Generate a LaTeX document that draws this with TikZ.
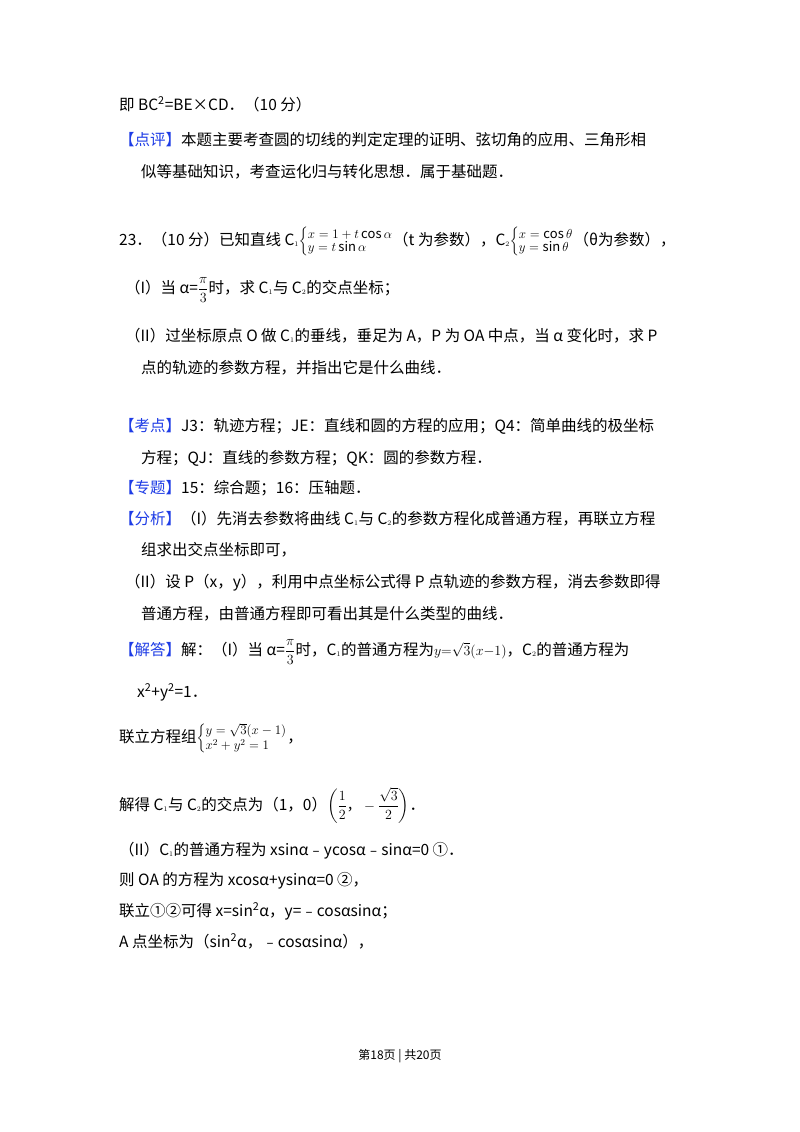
\RequirePackage{fix-cm}
\documentclass[tikz,border=0pt]{standalone}
\usepackage{fontspec}
\setmainfont{Noto Sans CJK SC}
\usepackage{amsmath}
\definecolor{hdblue}{RGB}{30,60,230}
\begin{document}
\begin{tikzpicture}[x=1pt,y=-1pt,
  ln/.style={anchor=base west,inner sep=0pt,font=\fontsize{15.5}{18}\selectfont},
  ft/.style={anchor=base,inner sep=0pt,font=\fontsize{12}{14}\selectfont}]
\fill[white] (0,0) rectangle (800,1132);
\newcommand{\hd}[1]{\textcolor{hdblue}{【#1】}}
\newcommand{\sm}[1]{{\fontsize{10}{12}\selectfont #1}}
\newcommand{\fr}[2]{{\fontsize{14}{16}\selectfont$\dfrac{#1}{#2}$}}
\node[ln] (l1) at (119,110) {即 BC\textsuperscript{2}=BE×CD．（10 分）};
\node[ln] (l2) at (119,145) {\hd{点评}本题主要考查圆的切线的判定定理的证明、弦切角的应用、三角形相};
\node[ln] (l3) at (141,177) {似等基础知识，考查运化归与转化思想．属于基础题．};
\node[ln] (l4) at (119,245) {23．（10 分）已知直线 C\sm{$_1$}{\fontsize{13}{15}\selectfont$\left\{\begin{array}{@{}l@{}} x=1+t\cos\alpha\\[-2pt] y=t\sin\alpha\end{array}\right.$}（t 为参数），C\sm{$_2$}{\fontsize{13}{15}\selectfont$\left\{\begin{array}{@{}l@{}} x=\cos\theta\\[-2pt] y=\sin\theta\end{array}\right.$}（θ为参数），};
\node[ln] (l5) at (125,293) {（I）当 α=\fr{\pi}{3}时，求 C\sm{$_1$}与 C\sm{$_2$}的交点坐标；};
\node[ln] (l6) at (125,341) {（II）过坐标原点 O 做 C\sm{$_1$}的垂线，垂足为 A，P 为 OA 中点，当 α 变化时，求 P};
\node[ln] (l7) at (141,373) {点的轨迹的参数方程，并指出它是什么曲线．};
\node[ln] (l8) at (119,431) {\hd{考点}J3：轨迹方程；JE：直线和圆的方程的应用；Q4：简单曲线的极坐标};
\node[ln] (l9) at (141,463) {方程；QJ：直线的参数方程；QK：圆的参数方程．};
\node[ln] (l10) at (119,493) {\hd{专题}15：综合题；16：压轴题．};
\node[ln] (l11) at (119,524) {\hd{分析}（I）先消去参数将曲线 C\sm{$_1$}与 C\sm{$_2$}的参数方程化成普通方程，再联立方程};
\node[ln] (l12) at (141,555) {组求出交点坐标即可，};
\node[ln] (l13) at (125,587) {（II）设 P（x，y），利用中点坐标公式得 P 点轨迹的参数方程，消去参数即得};
\node[ln] (l14) at (141,619) {普通方程，由普通方程即可看出其是什么类型的曲线．};
\node[ln] (l15) at (119,655) {\hd{解答}解：（I）当 α=\fr{\pi}{3}时，C\sm{$_1$}的普通方程为{\fontsize{14}{16}\selectfont$y{=}\sqrt{3}(x{-}1)$}，C\sm{$_2$}的普通方程为};
\node[ln] (l16) at (137,697) {x\textsuperscript{2}+y\textsuperscript{2}=1．};
\node[ln] (l17) at (119,742) {联立方程组{\fontsize{13}{15}\selectfont$\left\{\begin{array}{@{}l@{}} y=\sqrt{3}(x-1)\\ x^2+y^2=1\end{array}\right.$}，};
\node[ln] (l18) at (119,810) {解得 C\sm{$_1$}与 C\sm{$_2$}的交点为（1，0）{\fontsize{14}{16}\selectfont$\left(\dfrac{1}{2}，-\dfrac{\sqrt{3}}{2}\right)$}．};
\node[ln] (l19) at (119,855) {（II）C\sm{$_1$}的普通方程为 xsinα﹣ycosα﹣sinα=0 ①．};
\node[ln] (l20) at (119,885) {则 OA 的方程为 xcosα+ysinα=0 ②，};
\node[ln] (l21) at (119,916) {联立①②可得 x=sin\textsuperscript{2}α，y=﹣cosαsinα；};
\node[ln] (l22) at (119,947) {A 点坐标为（sin\textsuperscript{2}α，﹣cosαsinα），};
\node[ft] (f) at (400,1059) {第18页 | 共20页};
\end{tikzpicture}
\end{document}
